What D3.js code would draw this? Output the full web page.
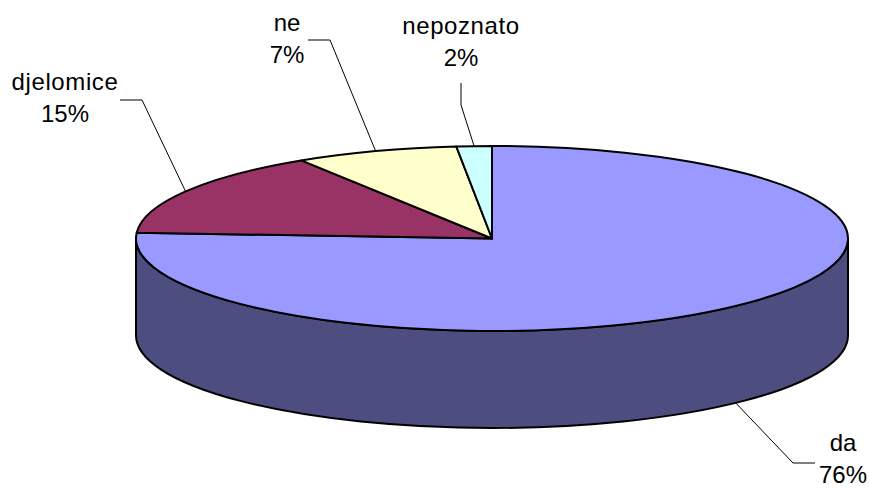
<!DOCTYPE html>
<html>
<head>
<meta charset="utf-8">
<script src="https://cdn.jsdelivr.net/npm/d3@7"></script>
<style>
  html, body { margin: 0; padding: 0; background: #fff; }
  svg { display: block; }
  text { font-family: "Liberation Sans", Arial, sans-serif; font-size: 24px; fill: #000; }
</style>
</head>
<body>
<div id="chart"></div>
<script>
const categories = ["da", "djelomice", "ne", "nepoznato"];
const shares = [76, 15, 7.4, 1.6];
const colors = ["#9999ff", "#993366", "#ffffcc", "#ccffff"];
const sideColor = "#4d4d80";

const width = 869, height = 488;
const cx = 492, cy = 238.5;      // centre of the top face
const rx = 356, ry = 92.5;
const depth = 97;

// label centre, first baseline and the leader line bends, per slice
const labelPos = [
  { x: 843, y: 451, bend: [[793, 463], [815, 463]] },
  { x: 65, y: 90, bend: [[142, 100], [120, 100]] },
  { x: 287, y: 31, bend: [[330, 40], [308, 40]] },
  { x: 461, y: 34, bend: [[461, 105], [461, 83]] }
];

const svg = d3.select("#chart").append("svg").attr("width", width).attr("height", height);

const dataset = categories.map((c, i) => ({ name: c, value: shares[i], index: i }));
const pie = d3.pie().value(d => d.value).sort(null);
const slices = pie(dataset);
const arc = d3.arc().innerRadius(0).outerRadius(rx);

// side wall, only the front half can be seen
svg.append("path")
  .attr("d", `M${cx - rx},${cy} A${rx},${ry} 0 0 0 ${cx + rx},${cy} v${depth} A${rx},${ry} 0 0 1 ${cx - rx},${cy + depth} Z`)
  .attr("fill", sideColor)
  .attr("stroke", "#000")
  .attr("stroke-width", 2);

// top face: a normal pie squashed into an ellipse
const topFace = svg.append("g").attr("transform", `translate(${cx},${cy}) scale(1,${ry / rx})`);
topFace.selectAll("path")
  .data(slices)
  .enter()
  .append("path")
  .attr("d", arc)
  .attr("fill", d => colors[d.index])
  .attr("stroke", "#000")
  .attr("stroke-width", 2)
  .attr("vector-effect", "non-scaling-stroke")
  .attr("stroke-linejoin", "round");

// leader lines start on the rim at the middle of each slice
const line = d3.line();
slices.forEach(d => {
  const a = (d.startAngle + d.endAngle) / 2;
  let px = cx + rx * Math.sin(a);
  let py = cy - ry * Math.cos(a);
  if (Math.cos(a) < 0) py += depth;
  svg.append("path")
    .attr("d", line([[px, py]].concat(labelPos[d.index].bend)))
    .attr("fill", "none")
    .attr("stroke", "#000")
    .attr("stroke-width", 1);
});

const total = d3.sum(shares);
slices.forEach(d => {
  const p = labelPos[d.index];
  const t = svg.append("text").attr("text-anchor", "middle");
  t.append("tspan").attr("x", p.x).attr("y", p.y).attr("letter-spacing", d.data.name.length > 2 ? 0.6 : 0).text(d.data.name);
  t.append("tspan").attr("x", p.x).attr("y", p.y + 32).text(Math.round(d.value / total * 100) + "%");
});
</script>
</body>
</html>
